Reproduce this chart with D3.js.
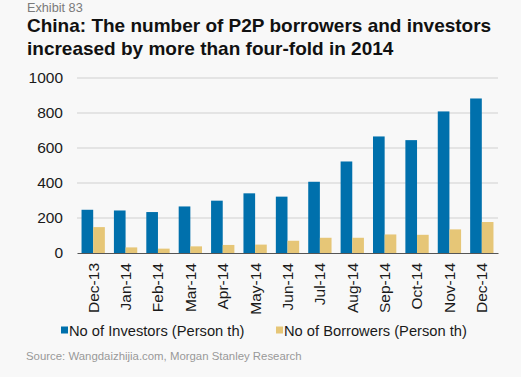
<!DOCTYPE html>
<html>
<head>
<meta charset="utf-8">
<script src="https://cdn.jsdelivr.net/npm/d3@7"></script>
<style>
  body { margin: 0; background: #f8f8f8; }
  svg { display: block; font-family: "Liberation Sans", Arial, sans-serif; }
</style>
</head>
<body>
<div class="bar-chart"></div>
<script>
const months = ['Dec-13', 'Jan-14', 'Feb-14', 'Mar-14', 'Apr-14', 'May-14', 'Jun-14',
  'Jul-14', 'Aug-14', 'Sep-14', 'Oct-14', 'Nov-14', 'Dec-14'];
const investors = [247, 243, 234, 266, 299, 341, 322, 407, 523, 666, 645, 809, 883];
const borrowers = [148, 32, 25, 38, 46, 48, 70, 87, 87, 106, 104, 135, 177];
const yTicks = [0, 200, 400, 600, 800, 1000];

const svgWidth = 521;
const svgHeight = 377;
const margin = { top: 78, right: 23, bottom: 124, left: 77 };
const width = svgWidth - margin.left - margin.right;
const height = svgHeight - margin.top - margin.bottom;

const blue = '#0070ac';
const gold = '#e6c677';

const svg = d3.select('.bar-chart').append('svg')
  .attr('width', svgWidth)
  .attr('height', svgHeight);

svg.append('rect')
  .attr('width', svgWidth)
  .attr('height', svgHeight)
  .attr('fill', '#f8f8f8');

// header
svg.append('text')
  .attr('x', 27).attr('y', 12)
  .attr('font-size', 12.7)
  .attr('fill', '#7a7a7a')
  .text('Exhibit 83');

const title = svg.append('text')
  .attr('font-size', 19)
  .attr('font-weight', 'bold')
  .attr('fill', '#111');
title.append('tspan').attr('x', 27).attr('y', 32)
  .text('China: The number of P2P borrowers and investors');
title.append('tspan').attr('x', 27).attr('y', 55)
  .text('increased by more than four-fold in 2014');

const g = svg.append('g')
  .attr('transform', `translate(${margin.left}, ${margin.top})`);

const xScale = d3.scaleBand()
  .domain(months)
  .range([0, width])
  .paddingInner(0.28)
  .paddingOuter(0.14);

const inner = d3.scaleBand()
  .domain(['inv', 'bor'])
  .range([0, xScale.bandwidth()]);

const yScale = d3.scaleLinear()
  .domain([0, 1000])
  .range([height, 0]);

// gridlines
g.append('g')
  .selectAll('line')
  .data(yTicks.filter(d => d > 0))
  .enter().append('line')
  .attr('x1', 0)
  .attr('x2', width)
  .attr('y1', d => yScale(d))
  .attr('y2', d => yScale(d))
  .attr('stroke', '#d0d0d0')
  .attr('stroke-width', 1);

// y axis
const yAxis = g.append('g')
  .call(d3.axisLeft(yScale).tickValues(yTicks).tickFormat(d3.format('d'))
    .tickSize(0).tickPadding(14));
yAxis.select('.domain').remove();
yAxis.selectAll('text')
  .attr('font-size', 15.5)
  .attr('fill', '#1a1a1a')
  .attr('font-family', '"Liberation Sans", Arial, sans-serif');

// bars
const groups = g.selectAll('.month')
  .data(months)
  .enter().append('g')
  .attr('transform', d => `translate(${xScale(d)}, 0)`);

groups.append('rect')
  .attr('x', inner('inv'))
  .attr('y', (d, i) => yScale(investors[i]))
  .attr('width', inner.bandwidth())
  .attr('height', (d, i) => height - yScale(investors[i]))
  .attr('fill', blue);

groups.append('rect')
  .attr('x', inner('bor'))
  .attr('y', (d, i) => yScale(borrowers[i]))
  .attr('width', inner.bandwidth())
  .attr('height', (d, i) => height - yScale(borrowers[i]))
  .attr('fill', gold);

// x axis
const xAxis = g.append('g')
  .attr('transform', `translate(0, ${height})`)
  .call(d3.axisBottom(xScale).tickSize(0).tickPadding(0));
xAxis.select('.domain').attr('stroke', '#555').attr('stroke-width', 1);
xAxis.selectAll('text')
  .attr('font-size', 15.5)
  .attr('fill', '#1a1a1a')
  .attr('font-family', '"Liberation Sans", Arial, sans-serif')
  .attr('transform', 'rotate(-90)')
  .attr('text-anchor', 'end')
  .attr('dy', '0.35em')
  .attr('x', -10)
  .attr('y', 0);

// legend
const legend = [
  { label: 'No of Investors (Person th)', color: blue, x: 61 },
  { label: 'No of Borrowers (Person th)', color: gold, x: 276 },
];
const lg = svg.selectAll('.legend')
  .data(legend)
  .enter().append('g')
  .attr('transform', d => `translate(${d.x}, 330)`);
lg.append('rect')
  .attr('x', 0).attr('y', -3.5)
  .attr('width', 7).attr('height', 7)
  .attr('fill', d => d.color);
lg.append('text')
  .attr('x', 8).attr('y', 1)
  .attr('dy', '0.35em')
  .attr('font-size', 14.7)
  .attr('fill', '#1a1a1a')
  .text(d => d.label);

svg.append('text')
  .attr('x', 26).attr('y', 360)
  .attr('font-size', 11.4)
  .attr('fill', '#999')
  .text('Source: Wangdaizhijia.com, Morgan Stanley Research');
</script>
</body>
</html>
